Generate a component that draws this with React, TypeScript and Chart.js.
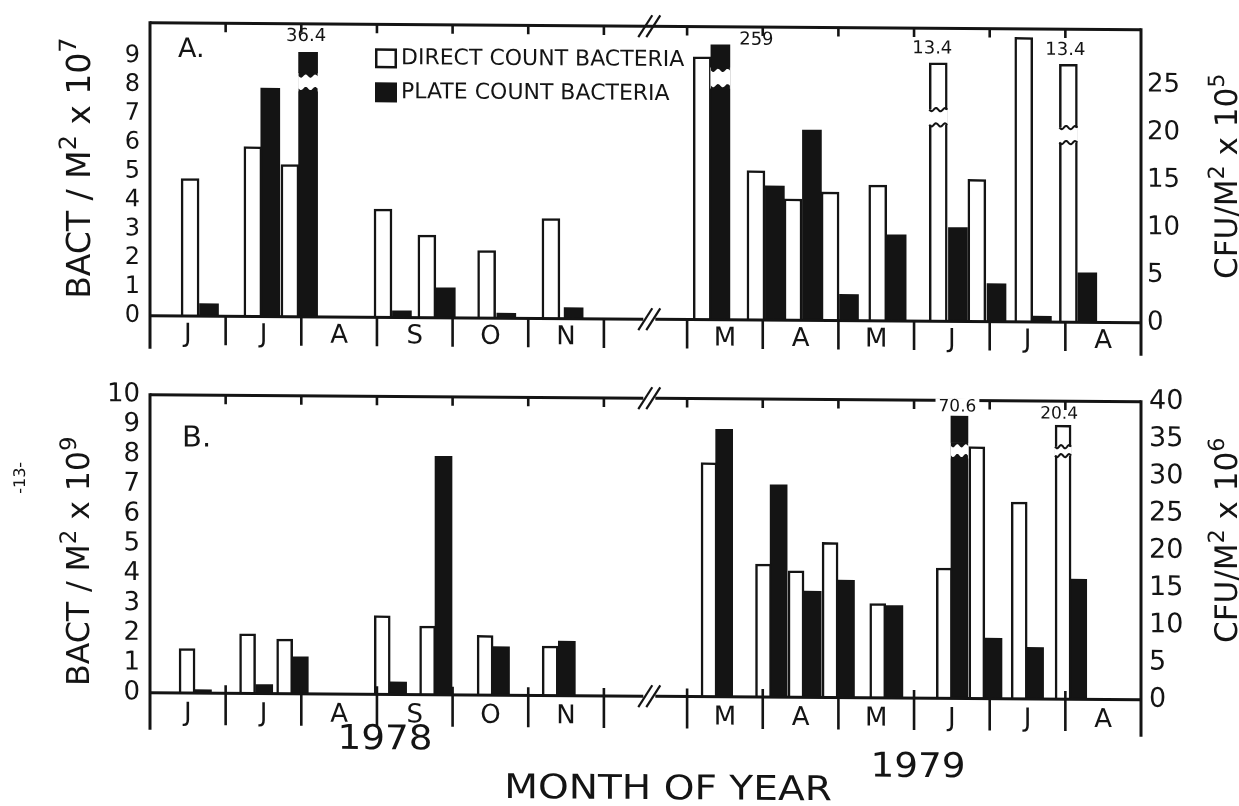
import React, { useEffect, useRef } from "react";
import { Chart, registerables } from "chart.js";

Chart.register(...registerables);

const FONT = "'DejaVu Sans', 'Liberation Sans', sans-serif";
const INK = "#141414";
// the scanned figure leans slightly: its right side sits a few pixels lower
const SKEW = Math.tan((0.4 * Math.PI) / 180);
const SKEW_CX = 620;

// x is measured in months from the start of June 1978; 1979 follows an axis break
const monthLabels = ["J", "J", "A", "S", "O", "N", "M", "A", "M", "J", "J", "A"];
const monthStarts = [0, 1, 2, 3, 4, 5, 7.1, 8.1, 9.1, 10.1, 11.1, 12.1];
const X_MAX = 13.1;
const AXIS_BREAK = 6.6;

// ---- Panel A ----
const aDirectX = [0.53, 1.36, 1.85, 3.08, 3.66, 4.45, 5.3, 7.3, 8.01, 8.5, 8.99, 9.62, 10.42, 10.93, 11.55, 12.14];
const aDirectY = [4.76, 5.88, 5.27, 3.75, 2.86, 2.34, 3.46, 9.1, 5.17, 4.2, 4.45, 4.7, 8.95, 4.92, 9.85, 8.93];
const aPlateX = [0.78, 1.59, 2.09, 3.33, 3.91, 4.71, 5.6, 7.54, 8.26, 8.75, 9.24, 9.87, 10.68, 11.19, 11.79, 12.39];
const aPlateY = [1.3, 24.0, 27.8, 0.7, 3.15, 0.52, 1.15, 28.9, 14.1, 20.0, 2.75, 9.05, 9.86, 3.98, 0.6, 5.2];
const aLeftTicks = [0, 1, 2, 3, 4, 5, 6, 7, 8, 9];
const aRightTicks = [0, 5, 10, 15, 20, 25];
const aBreakSeries = ["plate", "plate", "direct", "direct"];
const aBreakIndex = [2, 7, 12, 15];
const aBreakLow = [24.0, 24.6, 6.8, 6.22];
const aBreakHigh = [25.3, 26.2, 7.33, 6.74];
const aBreakLabels = ["36.4", "259", "13.4", "13.4"];

// ---- Panel B ----
const bDirectX = [0.49, 1.29, 1.78, 3.07, 3.67, 4.43, 5.29, 7.39, 8.11, 8.54, 8.99, 9.62, 10.5, 10.93, 11.49, 12.07];
const bDirectY = [1.49, 2.0, 1.83, 2.64, 2.3, 2.0, 1.66, 7.85, 4.46, 4.24, 5.2, 3.16, 4.37, 8.45, 6.6, 9.19];
const bPlateX = [0.7, 1.51, 1.98, 3.28, 3.88, 4.64, 5.51, 7.59, 8.31, 8.76, 9.2, 9.84, 10.7, 11.15, 11.7, 12.27];
const bPlateY = [0.45, 1.2, 4.95, 1.67, 32.0, 6.5, 7.3, 35.9, 28.5, 14.25, 15.75, 12.4, 37.9, 8.1, 6.9, 16.1];
const bLeftTicks = [0, 1, 2, 3, 4, 5, 6, 7, 8, 9, 10];
const bRightTicks = [0, 5, 10, 15, 20, 25, 30, 35, 40];
const bBreakSeries = ["plate", "direct"];
const bBreakIndex = [12, 15];
const bBreakLow = [32.6, 8.17];
const bBreakHigh = [33.9, 8.47];
const bBreakLabels = ["70.6", "20.4"];

const legendLabels = ["DIRECT COUNT BACTERIA", "PLATE COUNT BACTERIA"];

type Seg = { t: string; sup?: boolean };
const aLeftTitle: Seg[] = [{ t: "BACT / M" }, { t: "2", sup: true }, { t: " x 10" }, { t: "7", sup: true }];
const aRightTitle: Seg[] = [{ t: "CFU/M" }, { t: "2", sup: true }, { t: " x 10" }, { t: "5", sup: true }];
const bLeftTitle: Seg[] = [{ t: "BACT / M" }, { t: "2", sup: true }, { t: " x 10" }, { t: "9", sup: true }];
const bRightTitle: Seg[] = [{ t: "CFU/M" }, { t: "2", sup: true }, { t: " x 10" }, { t: "6", sup: true }];

// label placement styles (offsets relative to the bar top)
const aNoteStyle = [
  { dx: -2, dy: -16, bg: false },
  { dx: 36, dy: -5, bg: false },
  { dx: -6, dy: -14, bg: false },
  { dx: -3, dy: -14, bg: false },
];
const bNoteStyle = [
  { dx: -2, dy: -9, bg: true },
  { dx: -4, dy: -11, bg: false },
];

function line(ctx: CanvasRenderingContext2D, x1: number, y1: number, x2: number, y2: number) {
  ctx.beginPath();
  ctx.moveTo(x1, y1);
  ctx.lineTo(x2, y2);
  ctx.stroke();
}

function text(
  ctx: CanvasRenderingContext2D,
  s: string,
  x: number,
  y: number,
  size: number,
  align: CanvasTextAlign = "center",
  rot = 0,
  bg = false,
  sx = 1
) {
  ctx.save();
  ctx.translate(x, y);
  ctx.rotate(rot);
  ctx.scale(sx, 1);
  ctx.font = `${size}px ${FONT}`;
  ctx.textAlign = align;
  ctx.textBaseline = "middle";
  if (bg) {
    const w = ctx.measureText(s).width;
    ctx.fillStyle = "#fff";
    ctx.fillRect(-w / 2 - 3, -size / 2, w + 6, size);
  }
  ctx.fillStyle = INK;
  ctx.fillText(s, 0, 0);
  ctx.restore();
}

function richText(ctx: CanvasRenderingContext2D, segs: Seg[], x: number, y: number, size: number, rot: number) {
  ctx.save();
  ctx.translate(x, y);
  ctx.rotate(rot);
  const supSize = size * 0.72;
  let total = 0;
  const widths = segs.map((s) => {
    ctx.font = `${s.sup ? supSize : size}px ${FONT}`;
    const w = ctx.measureText(s.t).width;
    total += w;
    return w;
  });
  let cx = -total / 2;
  const base = size * 0.36;
  ctx.textAlign = "left";
  ctx.textBaseline = "alphabetic";
  ctx.fillStyle = INK;
  segs.forEach((s, i) => {
    ctx.font = `${s.sup ? supSize : size}px ${FONT}`;
    ctx.fillText(s.t, cx, s.sup ? base - size * 0.42 : base);
    cx += widths[i];
  });
  ctx.restore();
}

function wavePts(l: number, r: number, y: number, amp: number, n: number) {
  const pts: [number, number][] = [];
  const steps = 30;
  for (let i = 0; i <= steps; i++) {
    const t = i / steps;
    pts.push([l + (r - l) * t, y + amp * Math.sin(t * n * 2 * Math.PI)]);
  }
  return pts;
}

type PanelOpts = {
  sepDown: number;
  axisDown: number;
  sepUp: number;
  monthDy: number;
  monthFont: number;
  noteFont: number;
  topGap: boolean;
  breakSeries: string[];
  breakIndex: number[];
  breakLow: number[];
  breakHigh: number[];
  breakLabels: string[];
  noteStyle: { dx: number; dy: number; bg: boolean }[];
  extra: (ctx: CanvasRenderingContext2D, chart: any) => void;
};

function makeDecor(o: PanelOpts) {
  return {
    id: "decor",
    beforeDraw(chart: any) {
      const ctx: CanvasRenderingContext2D = chart.ctx;
      ctx.save();
      ctx.transform(1, SKEW, 0, 1, 0, -SKEW_CX * SKEW);
    },
    afterDraw(chart: any) {
      const ctx: CanvasRenderingContext2D = chart.ctx;
      const { left, right, top, bottom } = chart.chartArea;
      const xs = chart.scales.x;
      ctx.save();
      ctx.strokeStyle = INK;
      ctx.lineCap = "butt";

      // broken bars
      o.breakIndex.forEach((idx, k) => {
        const di = o.breakSeries[k] === "direct" ? 0 : 1;
        const el = chart.getDatasetMeta(di).data[idx];
        const ys = chart.scales[di === 0 ? "y" : "y1"];
        const yHi = ys.getPixelForValue(o.breakHigh[k]);
        const yLo = ys.getPixelForValue(o.breakLow[k]);
        const w = el.width;
        const l = el.x - w / 2;
        const r = el.x + w / 2;
        const n = 2;
        const amp = 1.6;
        if (di === 1) {
          ctx.fillStyle = "#fff";
          ctx.fillRect(l - 0.5, yHi - 3, w + 1, yLo - yHi + 6);
          ctx.fillStyle = INK;
          ctx.beginPath();
          ctx.moveTo(l, yHi - 3.5);
          ctx.lineTo(r, yHi - 3.5);
          wavePts(l, r, yHi, amp, n).reverse().forEach(([x, y]) => ctx.lineTo(x, y));
          ctx.closePath();
          ctx.fill();
          ctx.beginPath();
          ctx.moveTo(l, yLo + 3.5);
          ctx.lineTo(r, yLo + 3.5);
          wavePts(l, r, yLo, amp, n).reverse().forEach(([x, y]) => ctx.lineTo(x, y));
          ctx.closePath();
          ctx.fill();
        } else {
          ctx.fillStyle = "#fff";
          ctx.fillRect(l - 0.5, yHi, w + 1, yLo - yHi);
          ctx.lineWidth = 2;
          [yHi, yLo].forEach((yy) => {
            ctx.beginPath();
            wavePts(l, r, yy, amp, n).forEach(([x, y], i) => (i === 0 ? ctx.moveTo(x, y) : ctx.lineTo(x, y)));
            ctx.stroke();
          });
        }
        const st = o.noteStyle[k];
        if (!st.bg) text(ctx, o.breakLabels[k], el.x + st.dx, el.y + st.dy, o.noteFont, "center");
      });

      // frame
      const bx = xs.getPixelForValue(AXIS_BREAK);
      ctx.lineWidth = 3;
      line(ctx, left, top - 1.5, left, bottom + o.axisDown);
      line(ctx, right, top - 1.5, right, bottom + o.axisDown);
      if (o.topGap) {
        line(ctx, left, top, bx - 6, top);
        line(ctx, bx + 6, top, right, top);
      } else {
        line(ctx, left, top, right, top);
      }
      line(ctx, left, bottom, bx - 6, bottom);
      line(ctx, bx + 6, bottom, right, bottom);
      ctx.lineWidth = 2.2;
      [top, bottom].forEach((yy) => {
        line(ctx, bx - 4 - 7, yy + 11, bx - 4 + 7, yy - 11);
        line(ctx, bx + 4 - 7, yy + 11, bx + 4 + 7, yy - 11);
      });

      // month boundaries
      const bset: number[] = [];
      monthStarts.forEach((s) => {
        [s, s + 1].forEach((v) => {
          if (v > 0.01 && v < X_MAX - 0.01 && !bset.some((u) => Math.abs(u - v) < 0.01)) bset.push(v);
        });
      });
      ctx.lineWidth = 2.6;
      bset.forEach((v) => {
        const px = xs.getPixelForValue(v);
        line(ctx, px, bottom - o.sepUp, px, bottom + o.sepDown);
        line(ctx, px, top, px, top + 9);
      });
      monthLabels.forEach((m, i) => {
        text(ctx, m, xs.getPixelForValue(monthStarts[i] + 0.5), bottom + o.monthDy, o.monthFont);
      });

      // notes with a white background (drawn over the frame)
      o.breakIndex.forEach((idx, k) => {
        const st = o.noteStyle[k];
        if (!st.bg) return;
        const di = o.breakSeries[k] === "direct" ? 0 : 1;
        const el = chart.getDatasetMeta(di).data[idx];
        text(ctx, o.breakLabels[k], el.x + st.dx, el.y + st.dy, o.noteFont, "center", 0, true);
      });

      o.extra(ctx, chart);
      ctx.restore();
      ctx.restore(); // matches the skew save in beforeDraw
    },
  };
}

function buildChart(
  canvas: HTMLCanvasElement,
  p: {
    dx: number[];
    dy: number[];
    px: number[];
    py: number[];
    leftMax: number;
    rightMax: number;
    leftTicks: number[];
    rightTicks: number[];
    thick: number;
    padTop: number;
    xHeight: number;
    leftFont: number;
    rightFont: number;
    rightPad: number;
    decor: any;
  }
) {
  return new Chart(canvas, {
    type: "bar",
    data: {
      datasets: [
        {
          label: legendLabels[0],
          data: p.dx.map((x, i) => ({ x, y: p.dy[i] })),
          yAxisID: "y",
          backgroundColor: "#ffffff",
          borderColor: INK,
          borderWidth: 2.5,
          borderSkipped: "start",
          barThickness: p.thick,
          grouped: false,
        } as any,
        {
          label: legendLabels[1],
          data: p.px.map((x, i) => ({ x, y: p.py[i] })),
          yAxisID: "y1",
          backgroundColor: INK,
          borderWidth: 0,
          barThickness: p.thick + 1,
          grouped: false,
        } as any,
      ],
    },
    options: {
      animation: false,
      responsive: false,
      events: [],
      layout: { padding: { top: p.padTop, left: 0, right: 0, bottom: 0 } },
      plugins: { legend: { display: false }, tooltip: { enabled: false } },
      scales: {
        x: {
          type: "linear",
          min: 0,
          max: X_MAX,
          offset: false,
          ticks: { display: false },
          grid: { display: false, drawTicks: false },
          border: { display: false },
          afterFit: (s: any) => {
            s.height = p.xHeight;
          },
        },
        y: {
          position: "left",
          min: 0,
          max: p.leftMax,
          afterBuildTicks: (s: any) => {
            s.ticks = p.leftTicks.map((v) => ({ value: v }));
          },
          ticks: { autoSkip: false, padding: 10, color: INK, font: { family: FONT, size: p.leftFont } },
          grid: { display: false, drawTicks: false },
          border: { display: false },
          afterFit: (s: any) => {
            s.width = 150;
          },
        },
        y1: {
          position: "right",
          min: 0,
          max: p.rightMax,
          afterBuildTicks: (s: any) => {
            s.ticks = p.rightTicks.map((v) => ({ value: v }));
          },
          ticks: { autoSkip: false, padding: p.rightPad, color: INK, font: { family: FONT, size: p.rightFont } },
          grid: { display: false, drawTicks: false },
          border: { display: false },
          afterFit: (s: any) => {
            s.width = 1239 - 1141;
          },
        },
      } as any,
    },
    plugins: [p.decor],
  });
}

export default function App() {
  const aRef = useRef<HTMLCanvasElement>(null);
  const bRef = useRef<HTMLCanvasElement>(null);

  useEffect(() => {
    const decorA = makeDecor({
      sepDown: 29,
      axisDown: 33,
      sepUp: 0,
      monthDy: 19,
      monthFont: 26,
      noteFont: 18,
      topGap: false,
      breakSeries: aBreakSeries,
      breakIndex: aBreakIndex,
      breakLow: aBreakLow,
      breakHigh: aBreakHigh,
      breakLabels: aBreakLabels,
      noteStyle: aNoteStyle,
      extra: (ctx) => {
        text(ctx, "A.", 178, 53, 27, "left");
        ctx.lineWidth = 2.5;
        ctx.strokeStyle = INK;
        ctx.strokeRect(376.25, 51.25, 19.5, 17.5);
        ctx.fillStyle = INK;
        ctx.fillRect(375, 84, 22, 20);
        text(ctx, legendLabels[0], 401, 60, 22, "left");
        text(ctx, legendLabels[1], 401, 94, 22, "left");
        richText(ctx, aLeftTitle, 78, 172, 33, -Math.PI / 2);
        richText(ctx, aRightTitle, 1226, 172, 31, -Math.PI / 2);
      },
    });
    const decorB = makeDecor({
      sepDown: 32,
      axisDown: 37,
      sepUp: 8,
      monthDy: 21,
      monthFont: 26,
      noteFont: 17,
      topGap: true,
      breakSeries: bBreakSeries,
      breakIndex: bBreakIndex,
      breakLow: bBreakLow,
      breakHigh: bBreakHigh,
      breakLabels: bBreakLabels,
      noteStyle: bNoteStyle,
      extra: (ctx) => {
        text(ctx, "B.", 182, 72, 29, "left");
        richText(ctx, bLeftTitle, 78, 195, 31.5, -Math.PI / 2);
        richText(ctx, bRightTitle, 1226, 166, 31, -Math.PI / 2);
        text(ctx, "1978", 385, 372, 34, "center", 0, false, 1.1);
        text(ctx, "1979", 918, 396, 34, "center", 0, false, 1.1);
        text(ctx, "MONTH OF YEAR", 668, 420, 34, "center", 0, false, 1.15);
        text(ctx, "-13-", 21, 112, 16, "center", -Math.PI / 2);
      },
    });

    const ca = buildChart(aRef.current!, {
      dx: aDirectX,
      dy: aDirectY,
      px: aPlateX,
      py: aPlateY,
      leftMax: 10.15,
      rightMax: 30.8,
      leftTicks: aLeftTicks,
      rightTicks: aRightTicks,
      thick: 18,
      padTop: 26,
      xHeight: 370 - 319,
      leftFont: 24,
      rightFont: 26,
      rightPad: 6,
      decor: decorA,
    });
    const cb = buildChart(bRef.current!, {
      dx: bDirectX,
      dy: bDirectY,
      px: bPlateX,
      py: bPlateY,
      leftMax: 10,
      rightMax: 40,
      leftTicks: bLeftTicks,
      rightTicks: bRightTicks,
      thick: 16,
      padTop: 28,
      xHeight: 436 - 326,
      leftFont: 26,
      rightFont: 27,
      rightPad: 8,
      decor: decorB,
    });
    return () => {
      ca.destroy();
      cb.destroy();
    };
  }, []);

  return (
    <div
      style={{
        position: "fixed",
        left: 0,
        top: 0,
        width: 1239,
        height: 806,
        background: "#fff",
        overflow: "hidden",
      }}
    >
      <canvas ref={aRef} width={1239} height={370} style={{ position: "absolute", left: 0, top: 0, width: 1239, height: 370 }} />
      <canvas ref={bRef} width={1239} height={436} style={{ position: "absolute", left: 0, top: 370, width: 1239, height: 436 }} />
    </div>
  );
}
